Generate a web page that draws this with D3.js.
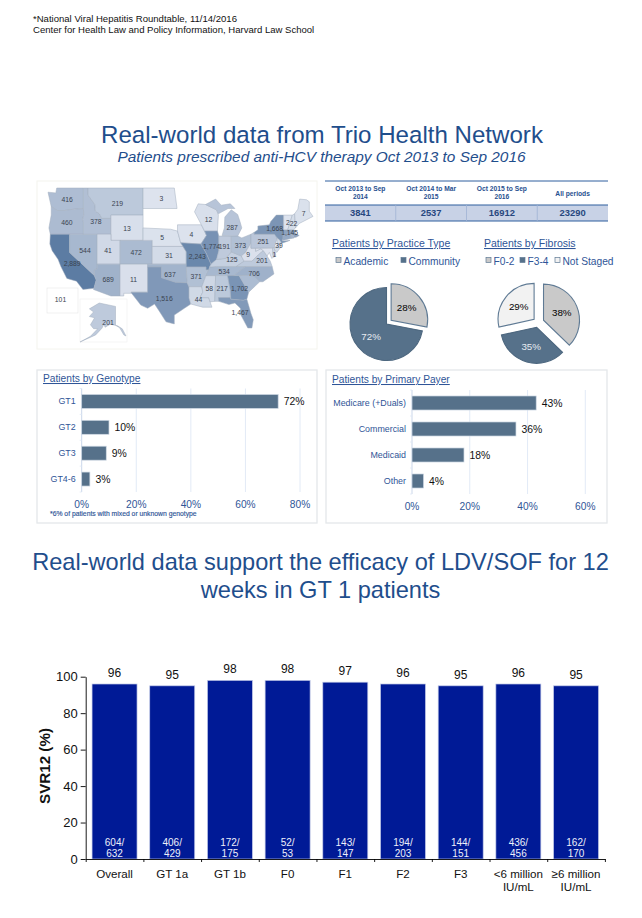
<!DOCTYPE html>
<html><head><meta charset="utf-8">
<script src="https://cdnjs.cloudflare.com/ajax/libs/d3/7.8.5/d3.min.js"></script>
<style>html,body{margin:0;padding:0;background:#fff}svg{display:block;font-family:"Liberation Sans",Arial,sans-serif}</style>
</head><body><svg id="c" width="642" height="918"></svg>
<script>
const periodLabels=[["Oct 2013 to Sep","2014"],["Oct 2014 to Mar","2015"],["Oct 2015 to Sep","2016"],["All periods"]];
const periodValues=[3841,2537,16912,23290];
const practiceCats=["Academic","Community"];
const practiceVals=[28,72];
const fibrosisCats=["F0-2","F3-4","Not Staged"];
const fibrosisVals=[38,35,29];
const genotypeCats=["GT1","GT2","GT3","GT4-6"];
const genotypeVals=[72,10,9,3];
const payerCats=["Medicare (+Duals)","Commercial","Medicaid","Other"];
const payerVals=[43,36,18,4];
const svrCats=[["Overall"],["GT 1a"],["GT 1b"],["F0"],["F1"],["F2"],["F3"],["<6 million","IU/mL"],["≥6 million","IU/mL"]];
const svrVals=[96,95,98,98,97,96,95,96,95];
const svrNum=[604,406,172,52,143,194,144,436,162];
const svrDen=[632,429,175,53,147,203,151,456,170];
const stateValues={WA:416,OR:460,CA:2889,NV:544,ID:378,MT:219,WY:13,UT:41,AZ:689,CO:472,NM:11,ND:3,NE:5,KS:31,OK:637,TX:1516,IA:4,MO:2243,AR:371,LA:44,WI:12,IL:1774,MS:58,TN:534,AL:217,GA:1702,FL:1467,NC:706,KY:125,IN:191,OH:373,MI:287,WV:9,VA:201,MD:1,PA:251,NY:1668,NJ:39,MA:1145,NH:22,VT:2,ME:7,AK:201,HI:101};
const unlabeledShades={SC:450,CT:900,RI:600,DE:60};
const stateRings={
WA:[[[-124.7,48.4],[-123,48.3],[-122.8,49],[-117,49],[-117,46],[-119,45.9],[-121.2,45.7],[-122.7,45.7],[-124,46.3]]],
OR:[[[-124,46.3],[-122.7,45.7],[-121.2,45.7],[-119,45.9],[-117,46],[-116.9,45],[-117.2,44.3],[-117,44],[-117,42],[-124.2,42],[-124.5,43],[-124,45]]],
CA:[[[-124.2,42],[-120,42],[-120,39],[-114.6,35],[-114.2,34.2],[-114.7,32.7],[-117.1,32.5],[-118.5,34],[-120.6,34.5],[-121.9,36.6],[-122.5,37.8],[-123.8,39.3],[-124.3,40.4]]],
NV:[[[-120,42],[-114,42],[-114,36.2],[-114.6,36],[-114.6,35],[-120,39]]],
ID:[[[-117,49],[-116,49],[-116,48],[-114.5,46.6],[-114.4,45.6],[-113.5,45.2],[-113,44.5],[-111,44.5],[-111,42],[-117,42],[-117,44],[-117.2,44.3],[-116.9,45],[-117,46]]],
MT:[[[-116,49],[-104,49],[-104,45],[-111,45],[-111,44.5],[-113,44.5],[-113.5,45.2],[-114.4,45.6],[-114.5,46.6],[-116,48]]],
WY:[[[-111,45],[-104,45],[-104,41],[-111,41]]],
UT:[[[-114,42],[-111,42],[-111,41],[-109,41],[-109,37],[-114,37]]],
AZ:[[[-114,37],[-109,37],[-109,31.3],[-111,31.3],[-114.8,32.5],[-114.7,32.7],[-114.2,34.2],[-114.6,35],[-114.6,36],[-114,36.2]]],
CO:[[[-109,41],[-102,41],[-102,37],[-109,37]]],
NM:[[[-109,37],[-103,37],[-103,32],[-106.6,32],[-106.5,31.8],[-108.2,31.8],[-108.2,31.3],[-109,31.3]]],
ND:[[[-104,49],[-97.2,49],[-96.6,46],[-104,46]]],
NE:[[[-104,43],[-98,42.8],[-96.5,42.5],[-95.8,40.6],[-95.3,40],[-102,40],[-102,41],[-104,41]]],
KS:[[[-102,40],[-95.3,40],[-94.6,39.1],[-94.6,37],[-102,37]]],
OK:[[[-103,37],[-94.6,37],[-94.4,33.7],[-97,33.8],[-100,34.6],[-100,36.5],[-103,36.5]]],
TX:[[[-106.6,32],[-103,32],[-103,36.5],[-100,36.5],[-100,34.6],[-97,33.8],[-94.4,33.7],[-94,33],[-94,31],[-93.6,29.8],[-95,29],[-97.2,27.7],[-97.2,26],[-99,26.4],[-100.5,28.5],[-101.5,29.8],[-103,29],[-104.5,29.6],[-106.5,31.8]]],
IA:[[[-96.5,43.5],[-91.3,43.5],[-90.2,41.8],[-91.4,40.4],[-95.8,40.6],[-96.5,42.5]]],
MO:[[[-95.8,40.6],[-91.4,40.4],[-90.2,38.8],[-89.2,37],[-89.5,36.5],[-89.7,36],[-90.3,36],[-90.3,36.5],[-94.6,36.5],[-94.6,39.1],[-95.3,40]]],
AR:[[[-94.6,36.5],[-90.3,36.5],[-90.3,36],[-89.7,36],[-90.3,35],[-91.2,33],[-94,33],[-94.4,33.7]]],
LA:[[[-94,33],[-91.2,33],[-91,32],[-91.6,31],[-89.7,31],[-89.4,30.2],[-89,29.2],[-91,29.2],[-93.6,29.8],[-94,31]]],
WI:[[[-92,46.7],[-90.4,46.6],[-88,45.8],[-87.6,45],[-87.8,42.5],[-90.6,42.5],[-91.3,43.5],[-92.8,45.5]]],
IL:[[[-90.6,42.5],[-87.8,42.5],[-87.5,41.7],[-87.5,39.3],[-88,37.8],[-89.2,37],[-90.2,38.8],[-91.4,40.4],[-90.2,41.8]]],
MS:[[[-90.3,35],[-88.2,35],[-88.4,30.3],[-89.4,30.2],[-89.7,31],[-91.6,31],[-91,32],[-91.2,33]]],
TN:[[[-90.3,35],[-89.7,36],[-89.5,36.5],[-88,36.6],[-83.7,36.6],[-81.7,36.6],[-84.3,35]]],
AL:[[[-88.2,35],[-85.6,35],[-85,32.3],[-85,31],[-87.6,31],[-87.5,30.3],[-88.4,30.3]]],
GA:[[[-85.6,35],[-83.1,35],[-81,32],[-81.4,30.7],[-82.2,30.5],[-84.9,30.7],[-85,32.3]]],
FL:[[[-87.6,31],[-85,31],[-84.9,30.7],[-82.2,30.5],[-81.4,30.7],[-80.5,28],[-80,26.8],[-80.3,25.2],[-81.2,25.2],[-82.7,27.7],[-82.8,29],[-84,30],[-85.3,29.7],[-87.5,30.3]]],
SC:[[[-83.1,35],[-81,35.1],[-79.7,34.8],[-78.6,33.9],[-81,32]]],
NC:[[[-84.3,35],[-81.7,36.6],[-75.9,36.6],[-75.5,35.3],[-77.9,33.9],[-78.6,33.9],[-79.7,34.8],[-81,35.1],[-83.1,35]]],
KY:[[[-89.5,36.5],[-88,36.6],[-83.7,36.6],[-82,37.5],[-82.6,38.4],[-84.8,39.1],[-86,38],[-88,37.8],[-89.2,37]]],
IN:[[[-87.5,41.7],[-84.8,41.7],[-84.8,39.1],[-86,38],[-88,37.8],[-87.5,39.3]]],
OH:[[[-84.8,41.7],[-83.4,41.7],[-82.5,41.4],[-80.5,42],[-80.5,40.6],[-81.7,39],[-82.6,38.4],[-84.8,39.1]]],
MI:[[[-86.8,41.8],[-83.4,41.7],[-82.5,43],[-82.9,44],[-83.4,45.1],[-84.8,45.8],[-86.2,44.7],[-86.3,43]],[[-90.4,46.6],[-88.2,47.4],[-87,46.5],[-85,46.7],[-84,46],[-85.5,46],[-87.6,45.2],[-88,45.8]]],
WV:[[[-82.6,38.4],[-81.7,39],[-80.5,40.6],[-80.5,39.7],[-79.5,39.7],[-79.5,39.2],[-78.4,39.6],[-77.8,39.3],[-78.9,38.6],[-80.3,37.5],[-82,37.5]]],
VA:[[[-83.7,36.6],[-75.9,36.6],[-76.3,37.5],[-77,38.4],[-77.8,39.3],[-78.9,38.6],[-80.3,37.5],[-82,37.5]]],
MD:[[[-79.5,39.7],[-75.8,39.7],[-75.7,38.5],[-75.1,38.4],[-76,38],[-76.5,39],[-77,38.4],[-77.8,39.3],[-78.4,39.6],[-79.5,39.2]]],
DE:[[[-75.8,39.8],[-75.4,39.8],[-75.1,38.5],[-75.7,38.5]]],
PA:[[[-80.5,42],[-79.8,42.3],[-79.8,42],[-75.4,42],[-74.8,41.4],[-75.4,39.8],[-80.5,39.7]]],
NY:[[[-79.8,42.3],[-79,42.7],[-79,43.3],[-76.5,43.5],[-76.2,44],[-75,45],[-73.4,45],[-73.4,42.7],[-73.5,41.3],[-73.7,40.9],[-72,41],[-73.9,40.5],[-74.2,41],[-74.8,41.4],[-75.4,42],[-79.8,42]]],
NJ:[[[-74.8,41.4],[-74.2,41],[-73.9,40.5],[-74.1,39.8],[-74.9,39],[-75.5,39.6],[-74.8,40.2]]],
CT:[[[-73.5,42],[-71.8,42],[-71.8,41.3],[-73.6,41]]],
RI:[[[-71.8,42],[-71.3,42],[-71.1,41.4],[-71.8,41.3]]],
MA:[[[-73.4,42.7],[-71.3,42.7],[-70.7,42.6],[-71,42.2],[-70,41.8],[-70.7,41.5],[-71.1,41.5],[-71.3,42],[-73.5,42]]],
VT:[[[-73.4,45],[-71.5,45],[-72.5,42.7],[-73.4,42.7]]],
NH:[[[-71.5,45],[-71,45.2],[-70.8,43],[-71.3,42.7],[-72.5,42.7]]],
ME:[[[-71,45.2],[-70.3,45.9],[-69.9,47.4],[-68.4,47.3],[-67.8,47],[-67.8,45.6],[-67,44.8],[-70,43.7],[-70.8,43]]],
AK:[[[-141,69.6],[-141,60.3],[-137,59],[-133,55.5],[-131,55],[-134.5,58.5],[-139,60],[-146,60.8],[-151,59.3],[-152,60.9],[-154,58.8],[-160,55.5],[-175,52],[-165,54.8],[-158,58.6],[-162,58.6],[-165,60.5],[-161,64],[-166,64.6],[-162,66.9],[-166,68.4],[-156.6,71.3]]]
};
const labelNudge={ID:[2,3],MT:[0,2],IL:[0,1],IN:[0,-1],KY:[3,-2],VA:[4,-2],NY:[1,0],MA:[-1,-1],NH:[1,0],VT:[1,0],NJ:[1,-1],MD:[7,2],FL:[-1,2],GA:[2,0],LA:[0,1],TX:[0,3],WV:[-3,0],CA:[1,1],MO:[1,0],NC:[-3,1],ME:[1,1],OK:[-3,2],OH:[0,0],WI:[1,2],MI:[0,2],ND:[2,0],AK:[6,6]};

const svg=d3.select("#c");
const BLUE="#2f5597", NAVY="#1f4e8c", SLATE="#56718a", GREY="#c9c9c9";
svg.append("rect").attr("width",642).attr("height",918).attr("fill","#fff");
const defs=svg.append("defs");
defs.append("filter").attr("id","soft").append("feGaussianBlur").attr("stdDeviation",0.35);

function txt(g,x,y,s,o={}){
  return g.append("text").attr("x",x).attr("y",y).text(s)
    .attr("font-size",o.size||10).attr("fill",o.fill||"#000")
    .attr("text-anchor",o.anchor||"start")
    .attr("font-weight",o.weight||null).attr("font-style",o.style||null)
    .attr("text-decoration",o.deco||null).attr("stroke",o.stroke||null)
    .attr("stroke-width",o.sw||null);
}
txt(svg,33,22,"*National Viral Hepatitis Roundtable, 11/14/2016",{size:9.55,fill:"#111"});
txt(svg,33,33,"Center for Health Law and Policy Information, Harvard Law School",{size:9.55,fill:"#111"});
txt(svg,322,143,"Real-world data from Trio Health Network",{size:24.1,fill:NAVY,anchor:"middle"});
txt(svg,321.5,162,"Patients prescribed anti-HCV therapy Oct 2013 to Sep 2016",{size:15.4,fill:NAVY,anchor:"middle",style:"italic"});
txt(svg,320.5,570,"Real-world data support the efficacy of LDV/SOF for 12",{size:23.6,fill:NAVY,anchor:"middle"});
txt(svg,320.5,598,"weeks in GT 1 patients",{size:23.6,fill:NAVY,anchor:"middle"});

// map
const mapG=svg.append("g").attr("filter","url(#soft)");
mapG.append("rect").attr("x",37).attr("y",181).attr("width",280).attr("height",168).attr("fill","#fff").attr("stroke","#f4f4ee").attr("stroke-width",1);
const lowerLon=d3.scaleLinear().domain([-124.7,-67]).range([48,313]);
const merc=l=>Math.log(Math.tan(Math.PI/4+l*Math.PI/360));
const lowerLat=d3.scaleLinear().domain([merc(49),merc(25.2)]).range([188,328]);
const projLower=p=>[lowerLon(p[0]),lowerLat(merc(p[1]))];
const akLon=d3.scaleLinear().domain([-175,-130]).range([80,127]);
const akLat=d3.scaleLinear().domain([71.3,52]).range([303,342]);
const projAK=p=>[akLon(p[0]),akLat(p[1])];
const shade=d3.scaleSqrt().domain([0,2889]).range(["#e1e6f0","#5b7ba3"]);
const ringLine=d3.line().curve(d3.curveLinearClosed);
mapG.append("rect").attr("x",80).attr("y",299).attr("width",47).attr("height",43).attr("fill","#fff").attr("stroke","#efefef").attr("stroke-width",.6);
mapG.append("rect").attr("x",47).attr("y",288).attr("width",31).attr("height",25).attr("fill","#fff").attr("stroke","#e6e6e6").attr("stroke-width",.6);
Object.keys(stateRings).forEach(id=>{
  const proj=id==="AK"?projAK:projLower;
  const v=stateValues[id]!==undefined?stateValues[id]:unlabeledShades[id];
  stateRings[id].forEach(r=>{
    mapG.append("path").attr("d",ringLine(r.map(proj))).attr("fill",shade(v)).attr("stroke","#a3aebe").attr("stroke-width",.5);
  });
});
const labelsG=svg.append("g");
Object.keys(stateValues).forEach(id=>{
  let c;
  if(id==="HI"){c=[60.5,302];}
  else{
    const proj=id==="AK"?projAK:projLower;
    c=d3.polygonCentroid(stateRings[id][0].map(proj));
    c[1]+=3;
  }
  const n=labelNudge[id]||[0,0];
  txt(labelsG,c[0]+n[0],c[1]+n[1],d3.format(",")(stateValues[id]),{size:6.8,fill:"#3a4350",anchor:"middle"});
});

// table
const tableX=d3.scaleBand().domain(d3.range(4)).range([325,608]);
const tableG=svg.append("g");
tableG.append("rect").attr("x",325).attr("y",205).attr("width",283).attr("height",16).attr("fill","#c8d2e6");
[181,205,221].forEach(y=>tableG.append("line").attr("x1",325).attr("x2",608).attr("y1",y).attr("y2",y).attr("stroke","#2f5f9e").attr("stroke-width",y===205?1.2:1));
periodLabels.forEach((l,i)=>{
  const cx=tableX(i)+tableX.bandwidth()/2;
  if(l.length===2){
    l.forEach((s,k)=>txt(tableG,cx,191+k*8,s,{size:6.7,fill:"#27508f",anchor:"middle",weight:"bold"}));
  } else txt(tableG,cx,196,l[0],{size:6.7,fill:"#27508f",anchor:"middle",weight:"bold"});
  txt(tableG,cx,216,periodValues[i],{size:9.4,fill:"#27477f",anchor:"middle",weight:"bold"});
  if(i>0) tableG.append("line").attr("x1",tableX(i)).attr("x2",tableX(i)).attr("y1",205).attr("y2",221).attr("stroke","#9fb2d4").attr("stroke-width",.8);
});

// pies
const pieColors=[GREY,SLATE,"#f2f2f2"];
function drawPie(cats,vals,cx,cy,r,explode,labelFills,rad){
  const g=svg.append("g").attr("transform",`translate(${cx},${cy})`);
  const arcs=d3.pie().sort(null)(vals);
  const arc=d3.arc().innerRadius(0).outerRadius(r);
  const lab=d3.arc().innerRadius(r*rad).outerRadius(r*rad);
  arcs.forEach((a,i)=>{
    const mid=(a.startAngle+a.endAngle)/2;
    const dx=Math.sin(mid)*explode[i],dy=-Math.cos(mid)*explode[i];
    const s=g.append("g").attr("transform",`translate(${dx},${dy})`);
    s.append("path").attr("d",arc(a)).attr("fill",pieColors[i]).attr("stroke",i===1?"#4d677f":"#5f7a94").attr("stroke-width",1.1);
    const c=lab.centroid(a);
    txt(s,c[0],c[1]+3.5,vals[i]+"%",{size:9.8,fill:labelFills[i],anchor:"middle"});
  });
}
drawPie(practiceCats,practiceVals,386.5,324,36.5,[6,0],["#000","#e8edf2"],.55);
drawPie(fibrosisCats,fibrosisVals,538,322.5,36,[6,5,5],["#000","#e8edf2","#000"],.55);
txt(svg,332,247,"Patients by Practice Type",{size:10.5,fill:BLUE,deco:"underline"});
txt(svg,484,247,"Patients by Fibrosis",{size:10.5,fill:BLUE,deco:"underline"});
function legend(cats,xs){
  cats.forEach((c,i)=>{
    svg.append("rect").attr("x",xs[i]).attr("y",257.5).attr("width",5).attr("height",5).attr("fill",pieColors[i]).attr("stroke","#5f7a94").attr("stroke-width",.7);
    txt(svg,xs[i]+7.5,265,c,{size:10.2,fill:BLUE});
  });
}
legend(practiceCats,[336,401]);
legend(fibrosisCats,[486,520,555]);

// horizontal bar panels
function hbar(o){
  svg.append("rect").attr("x",o.box[0]).attr("y",o.box[1]).attr("width",o.box[2]).attr("height",o.box[3]).attr("fill","#fff").attr("stroke","#e4e7ea").attr("stroke-width",1.3);
  txt(svg,o.titleX,o.titleY,o.title,{size:10.2,fill:BLUE,deco:"underline"});
  const x=d3.scaleLinear().domain([0,o.max]).range(o.xr);
  const y=d3.scaleBand().domain(o.cats).range(o.yr).paddingInner(.46).paddingOuter(.23);
  const g=svg.append("g");
  const ticks=d3.range(0,o.max+1,20);
  g.selectAll(".grid").data(ticks).join("line").attr("x1",d=>x(d)).attr("x2",d=>x(d)).attr("y1",o.yr[0]).attr("y2",o.yr[1]).attr("stroke",(d)=>d===0?"#c5d3e8":"#dfe8f5").attr("stroke-width",.9);
  const step=y.step();
  d3.range(5).forEach(i=>g.append("line").attr("x1",x(0)-2).attr("x2",x(0)).attr("y1",o.yr[0]+i*step).attr("y2",o.yr[0]+i*step).attr("stroke","#dfe8f5").attr("stroke-width",.8));
  o.cats.forEach((c,i)=>{
    const cy=y(c)+y.bandwidth()/2;
    g.append("rect").attr("x",x(0)).attr("y",y(c)).attr("width",x(o.vals[i])-x(0)).attr("height",y.bandwidth()).attr("fill",SLATE).attr("stroke","#cfd9e4").attr("stroke-width",.7);
    txt(g,x(0)-6,cy+3,c,{size:8.9,fill:BLUE,anchor:"end"});
    txt(g,x(o.vals[i])+5.5,cy+3.5,o.vals[i]+"%",{size:10.4,fill:"#111"});
  });
  ticks.forEach(t=>txt(g,x(t),o.tickY,t+"%",{size:10.2,fill:BLUE,anchor:"middle"}));
}
hbar({box:[37,370,280,153],title:"Patients by Genotype",titleX:43,titleY:382,cats:genotypeCats,vals:genotypeVals,max:80,xr:[81.7,300],yr:[388.5,492],tickY:508});
txt(svg,50,516,"*6% of patients with mixed or unknown genotype",{size:6.8,fill:BLUE,stroke:BLUE,sw:.15});
hbar({box:[326,370,281,153],title:"Patients by Primary Payer",titleX:332,titleY:383,cats:payerCats,vals:payerVals,max:60,xr:[412,585.3],yr:[390,494],tickY:510});

// SVR12 chart
const xB=d3.scaleBand().domain(d3.range(svrVals.length)).range([85.7,604.9]).paddingInner(.22).paddingOuter(.11);
const yS=d3.scaleLinear().domain([0,100]).range([859,676.7]);
const ch=svg.append("g");
svrVals.forEach((v,i)=>{
  const cx=xB(i)+xB.bandwidth()/2;
  ch.append("rect").attr("x",xB(i)).attr("y",yS(v)).attr("width",xB.bandwidth()).attr("height",yS(0)-yS(v)).attr("fill","#001a96").attr("stroke","#c3cbe8").attr("stroke-width",.7);
  txt(ch,cx,yS(v)-7,v,{size:12,anchor:"middle",fill:"#111"});
  txt(ch,cx,846,svrNum[i]+"/",{size:10,anchor:"middle",fill:"#eef0fa"});
  txt(ch,cx,857,svrDen[i],{size:10,anchor:"middle",fill:"#eef0fa"});
  svrCats[i].forEach((s,k)=>txt(ch,cx,878+k*13.2,s,{size:11.6,anchor:"middle",fill:"#111"}));
});
const ax=ch.append("g").attr("transform","translate(85.7,0)").call(d3.axisLeft(yS).tickValues([0,20,40,60,80,100]).tickSize(5).tickSizeOuter(0));
ax.selectAll("text").attr("font-family","'Liberation Sans',Arial,sans-serif").attr("font-size",13).attr("fill","#111");
ax.selectAll("line,path").attr("stroke","#000").attr("stroke-width",.9);
const xTick=d3.scaleLinear().domain([0,svrVals.length]).range([85.7,604.9]);
const ax2=ch.append("g").attr("transform","translate(0,859)").call(d3.axisBottom(xTick).tickValues(d3.range(svrVals.length+1)).tickSize(3).tickSizeOuter(0).tickFormat(""));
ax2.selectAll("line,path").attr("stroke","#000").attr("stroke-width",.9);
txt(ch,0,0,"SVR12 (%)",{size:15.2,weight:"bold",anchor:"middle",fill:"#111"}).attr("transform","translate(50,766) rotate(-90)");
</script></body></html>
